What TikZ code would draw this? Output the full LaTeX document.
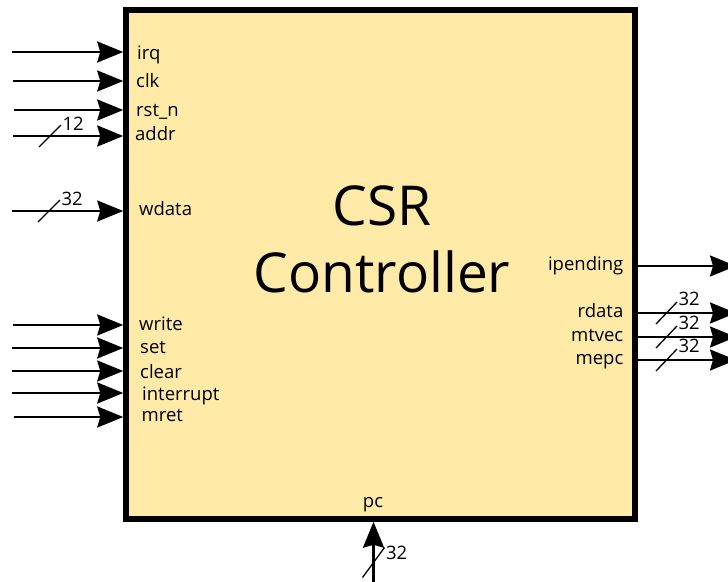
\documentclass[tikz,border=0pt]{standalone}
\usepackage{fontspec}
\setmainfont{Open Sans}
\usetikzlibrary{arrows.meta}
\definecolor{csrfill}{RGB}{255,234,167}
\tikzstyle{block}=[draw,line width=5.5pt,fill=csrfill,minimum width=509pt,minimum height=509pt,inner sep=0pt]
\tikzstyle{title}=[font=\fontsize{55}{64}\selectfont,inner sep=0pt]
\tikzstyle{port}=[font=\fontsize{18.5}{22}\selectfont,inner sep=0pt]
\tikzstyle{wire}=[draw,line width=2.4pt,-{Stealth[length=26pt,width=21pt,inset=3pt]}]
\tikzstyle{tick}=[draw,line width=1.3pt]
\tikzstyle{buswidth}=[font=\fontsize{18.5}{22}\selectfont,inner sep=1pt,anchor=west]

\begin{document}
\begin{tikzpicture}[x=1pt,y=-1pt]
    \useasboundingbox (0,0) rectangle (728,581);

    \node[block] (csr) at (380.5,264.5) {};
    \node[title,anchor=base] (csr1) at (382,225) {CSR};
    \node[title,anchor=base] (csr2) at (382,292) {Controller};

    % inputs on the left side
    \foreach \name/\y/\x/\lx/\ly/\txt in {irq/52/12/137/59/irq, clk/81/13/136/87/clk,
        rstn/110/14/136/116/rst\_n, addr/136/13/135/140/addr, wdata/211/12/139/215/wdata,
        write/325/13/139/330/write, set/348/12/140/353/set, clear/371/12/140/378/clear,
        interrupt/393/12/142/400/interrupt, mret/417/14/141.5/421.5/mret}
    {
        \coordinate (\name-in) at (\x,\y);
        \path[wire] (\name-in) -- (csr.west |- \name-in);
        \node[port,anchor=base west] (\name-lbl) at (\lx,\ly) {\txt};
    }

    \foreach \name/\w in {addr/12, wdata/32}
        \path[tick] ([xshift=37pt]\name-in) ++(-11,11) -- ++(22,-22) node[buswidth,yshift=1pt] (\name-w) {\w};

    % outputs on the right side
    \foreach \name/\y/\ly/\txt in {ipending/266/270/ipending, rdata/313/317/rdata,
        mtvec/337/341.5/mtvec, mepc/360/364/mepc}
    {
        \coordinate (\name-out) at (736,\y);
        \path[wire] (csr.east |- \name-out) -- (\name-out);
        \node[port,anchor=base east] (\name-lbl) at (623.5,\ly) {\txt};
    }

    \foreach \name in {rdata, mtvec, mepc}
        \path[tick] ([xshift=-69.5pt]\name-out) ++(-10.5,11) -- ++(21,-22) node[buswidth,yshift=3pt] (\name-w) {32};

    % pc enters from below
    \coordinate (pc-in) at (373.5,595);
    \path[wire] (pc-in) -- (pc-in |- csr.south);
    \node[port,anchor=base] (pc-lbl) at (373,507) {pc};
    \path[tick] ([yshift=32.5pt]pc-in) ++(-11,15) -- ++(22,-30) node[buswidth,yshift=-5pt] (pc-w) {32};

\end{tikzpicture}
\end{document}
